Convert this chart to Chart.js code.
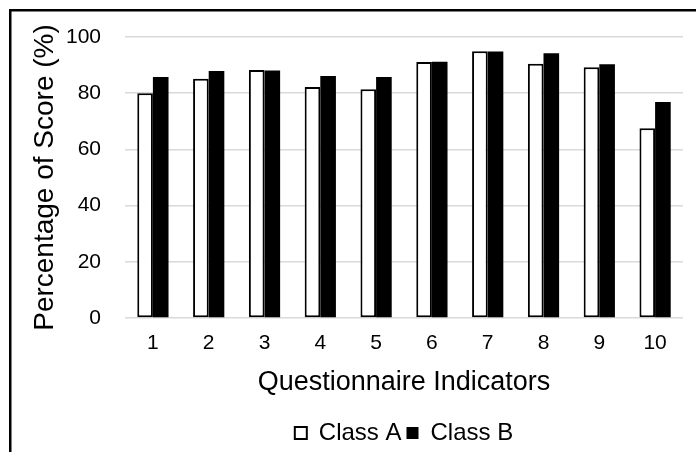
<!DOCTYPE html>
<html>
<head>
<meta charset="utf-8">
<script src="https://cdn.jsdelivr.net/npm/chart.js@4"></script>
<style>
  html, body { margin: 0; padding: 0; background: #fff; }
  #wrap { position: relative; width: 696px; height: 452px; }
</style>
</head>
<body>
<div id="wrap"><canvas id="chart" width="696" height="452"></canvas></div>
<script>
// Questionnaire indicators and percentage scores per class
const indicators = ['1', '2', '3', '4', '5', '6', '7', '8', '9', '10'];
const classA = [80.0, 85.1, 88.3, 82.2, 81.4, 91.1, 94.9, 90.5, 89.2, 67.5];
const classB = [85.8, 87.9, 88.1, 86.1, 85.8, 91.2, 94.8, 94.2, 90.3, 76.9];
const yTicks = [0, 20, 40, 60, 80, 100];

const FONT = '"Liberation Sans", Arial, sans-serif';

// Frame line along the left and top edges of the figure
const framePlugin = {
  id: 'frame',
  beforeDraw(chart) {
    const ctx = chart.ctx;
    ctx.save();
    ctx.fillStyle = '#fff';
    ctx.fillRect(0, 0, chart.width, chart.height);
    ctx.strokeStyle = '#000';
    ctx.lineWidth = 2.5;
    ctx.beginPath();
    ctx.moveTo(10.25, chart.height);
    ctx.lineTo(10.25, 10.25);
    ctx.lineTo(chart.width, 10.25);
    ctx.stroke();
    ctx.restore();
  }
};

// Center the legend under the plot area and drop it slightly lower
const legendUnderPlot = {
  id: 'legendUnderPlot',
  afterLayout(chart) {
    const lg = chart.legend;
    if (lg) {
      lg.left = chart.chartArea.left;
      lg.right = chart.chartArea.right;
      lg.top += 3;
      lg.bottom += 3;
    }
  }
};

new Chart(document.getElementById('chart'), {
  type: 'bar',
  data: {
    labels: indicators,
    datasets: [
      {
        label: 'Class A',
        data: classA,
        backgroundColor: '#ffffff',
        borderColor: '#000000',
        borderWidth: 2,
        borderSkipped: false
      },
      {
        label: 'Class B',
        data: classB,
        backgroundColor: '#000000',
        borderColor: '#000000',
        borderWidth: 0
      }
    ]
  },
  options: {
    responsive: false,
    animation: false,
    devicePixelRatio: 1,
    layout: { padding: { top: 37, right: 13, bottom: 0, left: 0 } },
    datasets: {
      bar: { categoryPercentage: 0.56, barPercentage: 1.0 }
    },
    plugins: {
      tooltip: { enabled: false },
      legend: {
        position: 'bottom',
        labels: {
          color: '#000',
          boxWidth: 12,
          boxHeight: 12,
          padding: 5,
          font: { family: FONT, size: 24 }
        }
      }
    },
    scales: {
      x: {
        grid: { display: false },
        border: { display: false },
        ticks: { color: '#000', padding: 5, font: { family: FONT, size: 21 } },
        title: {
          display: true,
          text: 'Questionnaire Indicators',
          color: '#000',
          padding: { top: 0, bottom: 14 },
          font: { family: FONT, size: 27 }
        },
        afterFit(scale) { scale.height = 95; }
      },
      y: {
        min: 0,
        max: 100,
        afterBuildTicks(scale) { scale.ticks = yTicks.map(v => ({ value: v })); },
        grid: { color: '#d9d9d9', lineWidth: 1.5, drawTicks: false },
        border: { display: false },
        ticks: { color: '#000', padding: 24, font: { family: FONT, size: 21 } },
        title: {
          display: true,
          text: 'Percentage of Score (%)',
          color: '#000',
          padding: { top: 28, bottom: 0 },
          font: { family: FONT, size: 28 }
        },
        afterFit(scale) { scale.width = 125; }
      }
    }
  },
  plugins: [framePlugin, legendUnderPlot]
});
</script>
</body>
</html>
